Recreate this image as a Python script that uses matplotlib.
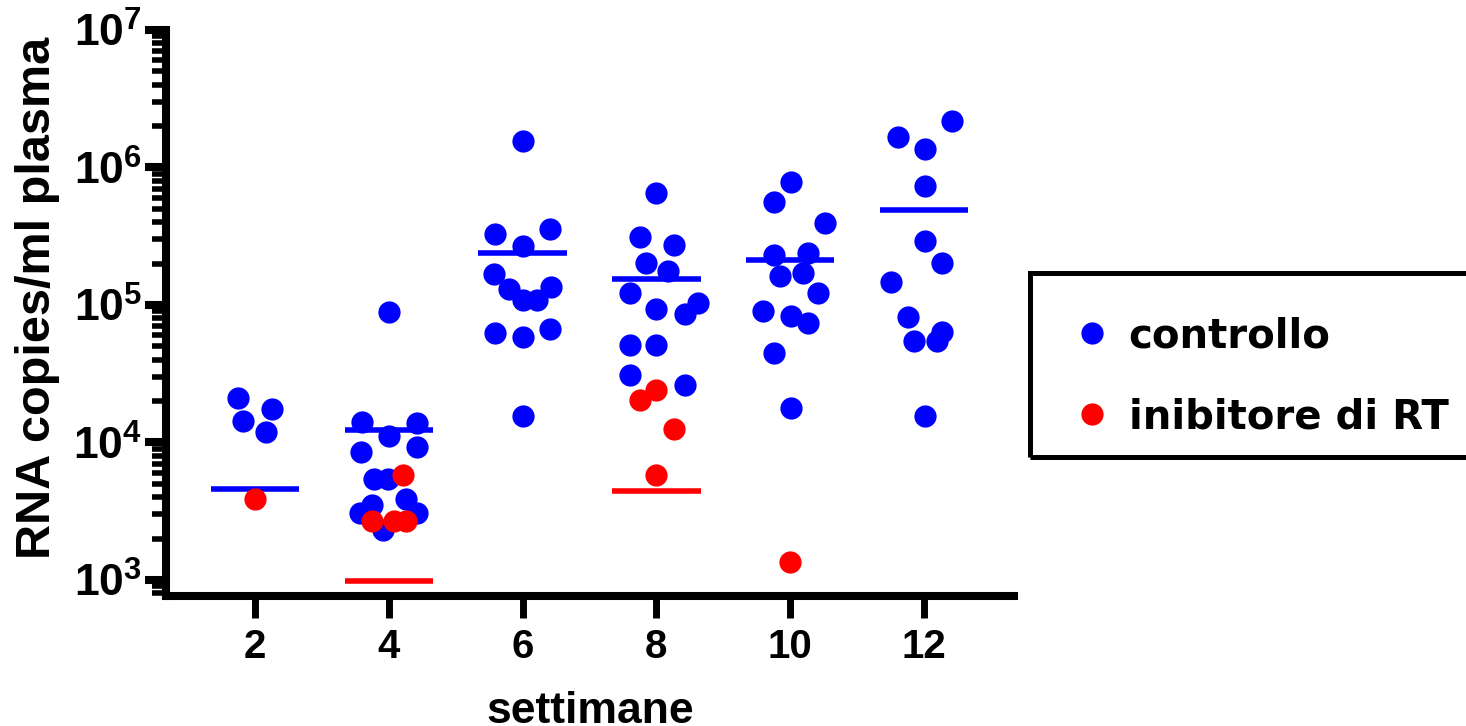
import numpy as np
import matplotlib
matplotlib.use('Agg')
import matplotlib.pyplot as plt
from matplotlib.lines import Line2D
from matplotlib.patches import Rectangle
from matplotlib.ticker import FixedLocator, LogLocator, FuncFormatter, NullFormatter

# fonts: bold sans everywhere, mathtext for the 10^n labels
plt.rcParams['font.family'] = 'Liberation Sans'
plt.rcParams['font.weight'] = 'bold'
plt.rcParams['axes.labelweight'] = 'bold'
plt.rcParams['mathtext.fontset'] = 'custom'
plt.rcParams['mathtext.rm'] = 'Liberation Sans:bold'
plt.rcParams['mathtext.bf'] = 'Liberation Sans:bold'
plt.rcParams['mathtext.default'] = 'rm'

# weeks
weeks = [2, 4, 6, 8, 10, 12]

# controllo (blue) - x is the jittered week position, y is RNA copies/ml
ctrl_x = [1.75, 2.25, 1.82, 2.16,
          4.00, 3.60, 4.42, 4.00, 3.58, 4.42, 3.78, 3.99, 3.75, 4.26, 3.57, 4.42, 3.91,
          6.00, 5.59, 6.41, 6.00, 5.57, 5.80, 6.42, 6.00, 6.21, 5.59, 6.00, 6.41, 6.00,
          8.00, 7.75, 8.26, 7.84, 8.17, 7.61, 8.00, 8.43, 8.62, 7.61, 8.00, 7.61, 8.43,
          10.01, 9.76, 10.52, 9.76, 10.27, 9.85, 10.19, 10.42, 9.60, 10.01, 10.27, 9.76, 10.01,
          12.42, 11.61, 12.01, 12.01, 12.01, 12.27, 11.51, 11.76, 12.27, 11.85, 12.19, 12.01]
ctrl_y = [21100, 17500, 14300, 11900,
          88900, 14100, 13900, 11100, 8530, 9270, 5430, 5430, 3510, 3880, 3070, 3070, 2310,
          1560000, 328000, 357000, 269000, 168000, 131000, 135000, 109000, 109000, 62500, 58500, 66900, 15600,
          653000, 313000, 273000, 202000, 177000, 122000, 93500, 86000, 103000, 51200, 51200, 31000, 26200,
          785000, 561000, 395000, 231000, 239000, 163000, 171000, 122000, 90400, 83100, 74000, 44800, 17800,
          2180000, 1670000, 1360000, 733000, 292000, 202000, 147000, 81900, 63700, 54700, 54700, 15600]

# inibitore di RT (red)
rt_x = [2.00, 4.21, 3.75, 4.08, 4.26, 7.75, 8.00, 8.26, 8.00, 10.00]
rt_y = [3880, 5810, 2690, 2690, 2690, 20400, 24100, 12500, 5810, 1350]

# mean bars
ctrl_mean = [4590, 12300, 239000, 155000, 212000, 491000]
rt_mean_weeks = [4, 8]
rt_mean = [984, 4430]

blue = '#0000ff'
red = '#ff0000'

fig = plt.figure(figsize=(14.66, 7.26), dpi=100)
ax = fig.add_axes([0.1132, 0.1791, 0.5785, 0.7796])

half = 0.66
w = np.array(weeks)
ax.hlines(ctrl_mean, w - half, w + half, color=blue, lw=4, zorder=2)
wr = np.array(rt_mean_weeks)
ax.hlines(rt_mean, wr - half, wr + half, color=red, lw=4, zorder=2)

ax.plot(ctrl_x, ctrl_y, 'o', color=blue, ms=16, mew=0, zorder=3)
ax.plot(rt_x, rt_y, 'o', color=red, ms=16, mew=0, zorder=4)

ax.set_yscale('log')
ax.set_ylim(765, 1e7)
ax.set_xlim(0.67, 13.345)

# axes styling, prism-like
for s in ['top', 'right']:
    ax.spines[s].set_visible(False)
for s in ['left', 'bottom']:
    ax.spines[s].set_linewidth(5.8)

ax.set_xticks(weeks)
ax.set_xticklabels([str(v) for v in weeks])
ax.tick_params(axis='x', length=16, width=5, pad=7, labelsize=29)

ax.yaxis.set_major_locator(FixedLocator([1e3, 1e4, 1e5, 1e6, 1e7]))
ax.yaxis.set_minor_locator(LogLocator(base=10, subs=range(2, 10)))
ax.yaxis.set_major_formatter(FuncFormatter(lambda v, p: r'$10^{%d}$' % round(np.log10(v))))
ax.yaxis.set_minor_formatter(NullFormatter())
ax.tick_params(axis='y', which='major', length=15, width=5.8, pad=2, labelsize=32)
ax.tick_params(axis='y', which='minor', length=10, width=4)

ax.set_ylabel('RNA copies/ml plasma', fontsize=35, fontweight='bold', va='center')
ax.yaxis.set_label_coords(-0.152, 0.527)
ax.set_xlabel('settimane', fontsize=32, fontweight='bold', va='top')
ax.xaxis.set_label_coords(0.5, -0.168)

# legend, frame drawn separately so it runs off the right edge
handles = [Line2D([], [], ls='none', marker='o', color=blue, ms=16, mew=0),
           Line2D([], [], ls='none', marker='o', color=red, ms=16, mew=0)]
fig.legend(handles, ['controllo', 'inibitore di RT'], loc='upper left',
           bbox_to_anchor=(1040 / 1466, 1 - 280 / 726), frameon=False,
           prop={'family': 'DejaVu Sans', 'weight': 'bold', 'size': 29},
           handlelength=0.8, handletextpad=0.5, labelspacing=1.02,
           borderpad=0.4, numpoints=1)
fig.patches.append(Rectangle((1030 / 1466, 1 - 457 / 726), 460 / 1466, 184 / 726,
                             transform=fig.transFigure, fill=False,
                             edgecolor='black', lw=3.6))

fig.savefig('out.png', dpi=100, facecolor='white')
